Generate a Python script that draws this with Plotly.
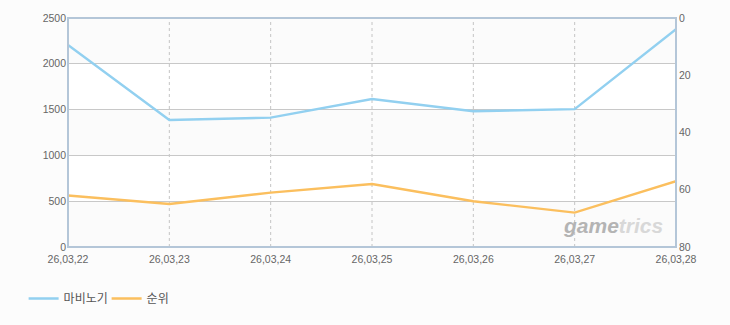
import plotly.graph_objects as go

dates = ["26,03,22", "26,03,23", "26,03,24", "26,03,25", "26,03,26", "26,03,27", "26,03,28"]
mabinogi = [2205, 1387, 1412, 1616, 1482, 1505, 2378]
rank = [62, 65, 61, 58, 64, 68, 57]

left_ticks = [0, 500, 1000, 1500, 2000, 2500]
right_ticks = [0, 20, 40, 60, 80]

fig = go.Figure()
fig.add_trace(go.Scatter(x=list(range(len(dates))), y=mabinogi, name="마비노기", mode="lines",
                         line=dict(color="#92d0f0", width=2.4), yaxis="y"))
fig.add_trace(go.Scatter(x=list(range(len(dates))), y=rank, name="순위", mode="lines",
                         line=dict(color="#fbbf5e", width=2.4), yaxis="y2"))

shapes = []
for i in range(0, len(left_ticks) - 1):
    if i % 2 == 0:
        shapes.append(dict(type="rect", xref="paper", yref="y", x0=0, x1=1,
                           y0=left_ticks[i], y1=left_ticks[i + 1],
                           fillcolor="#fbfbfb", line=dict(width=0), layer="below"))
for i in range(1, len(dates) - 1):
    shapes.append(dict(type="line", xref="x", yref="paper", x0=i, x1=i, y0=0, y1=1,
                       line=dict(color="#c4c4c4", width=1, dash="3px,3px"), layer="below"))
shapes.append(dict(type="rect", xref="paper", yref="paper", x0=0, x1=1, y0=0, y1=1,
                   line=dict(color="#b4c6d8", width=2), layer="above"))

tf = dict(family="Liberation Sans, Arial", size=10.5, color="#666")
fig.update_layout(
    width=730, height=325,
    margin=dict(l=68, r=54, t=16, b=77),
    paper_bgcolor="#fcfcfc", plot_bgcolor="#ffffff",
    font=dict(family="Liberation Sans, Arial", size=11, color="#666"),
    shapes=shapes,
    xaxis=dict(range=[0, 6], tickmode="array", tickvals=list(range(len(dates))), ticktext=dates,
               showgrid=False, zeroline=False, showline=False, ticks="", ticklen=0,
               ticklabelstandoff=4, tickfont=tf),
    yaxis=dict(range=[0, 2500], tickvals=left_ticks, showgrid=True, gridcolor="#c8c8c8",
               gridwidth=1, zeroline=False, showline=False, ticks="", ticklabelstandoff=1,
               tickfont=tf),
    yaxis2=dict(range=[80, 0], tickvals=right_ticks, overlaying="y", side="right",
                showgrid=False, zeroline=False, showline=False, ticks="", ticklabelstandoff=2,
                tickfont=tf),
    legend=dict(orientation="h", x=-0.073, xanchor="left", y=-0.225, yanchor="middle",
                font=dict(family="Noto Sans CJK KR", size=12, color="#555"),
                bgcolor="rgba(0,0,0,0)", entrywidth=38, entrywidthmode="pixels"),
    annotations=[dict(text="<i><b><span style='color:#b4b4b4'>game</span>"
                           "<span style='color:#d8d8d8'>trics</span></b></i>",
                      xref="paper", yref="paper",
                      x=0.982, y=0.034, xanchor="right", yanchor="bottom", showarrow=False,
                      font=dict(family="Liberation Sans", size=21, color="#d4d4d4"))],
    showlegend=True,
)
fig.write_html("out.html")
